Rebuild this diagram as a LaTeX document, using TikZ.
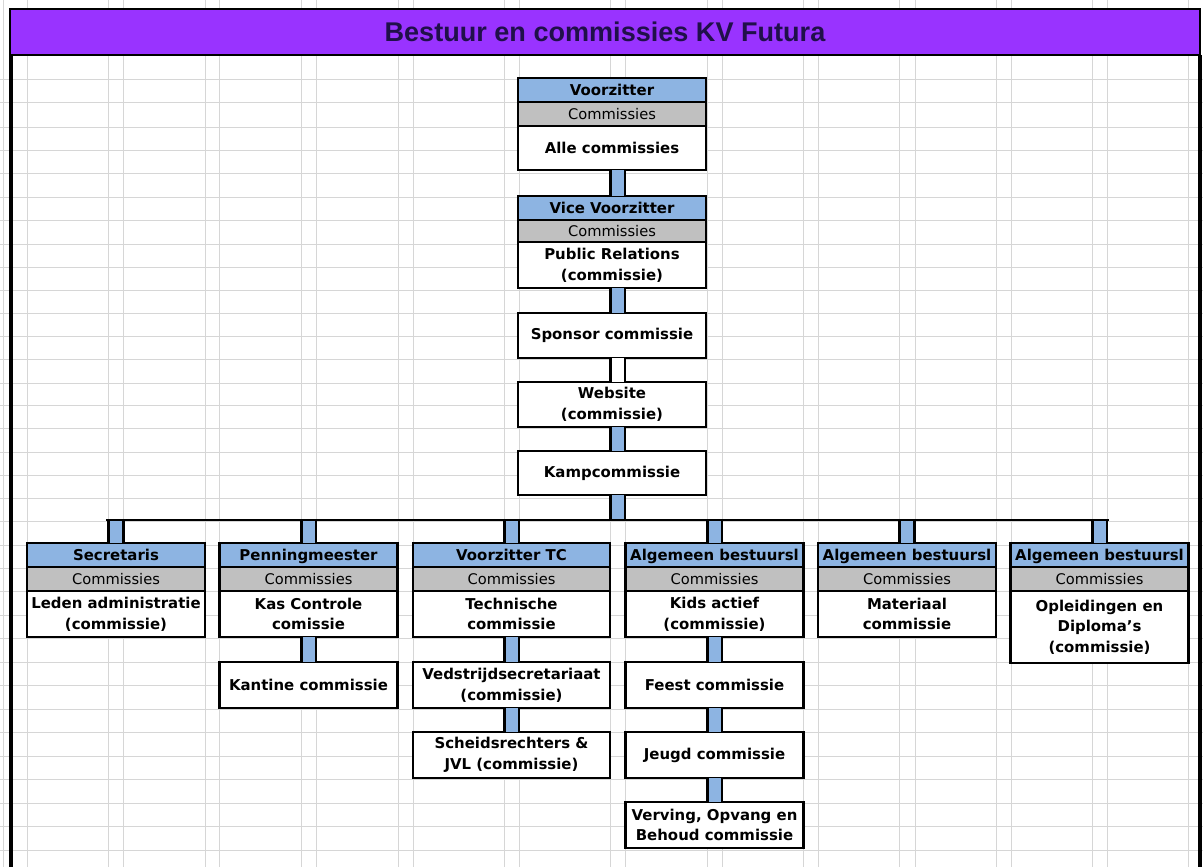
\documentclass[tikz,border=0pt]{standalone}
\usepackage{fontspec}
\setmainfont{DejaVu Sans}
\newfontfamily\titlefont{Liberation Sans}
\definecolor{hdrblue}{HTML}{8DB4E2}
\definecolor{subgray}{HTML}{C0C0C0}
\definecolor{gridgray}{HTML}{D6D6D6}
\definecolor{titlepurple}{HTML}{9933FF}
\definecolor{titleink}{HTML}{20104A}
\begin{document}
\begin{tikzpicture}[x=0.75pt,y=-0.75pt,
  gridline/.style={draw=gridgray,line width=0.75pt},
  boxline/.style={draw=black,line width=2.1pt,outer sep=0pt,inner sep=0pt},
  hdr/.style={boxline,fill=hdrblue,anchor=north,minimum height=18pt,text height=9.4pt,text depth=1.1pt,font=\bfseries\fontsize{11.2}{13}\selectfont},
  sub/.style={boxline,fill=subgray,anchor=north,minimum height=18pt,text height=9.4pt,text depth=1.1pt,font=\fontsize{11}{13}\selectfont},
  body/.style={boxline,fill=white,anchor=north,minimum height=34.5pt,align=center,font=\bfseries\fontsize{11.2}{15.5}\selectfont},
  wtop/.style={minimum width=141pt},
  wcol/.style={minimum width=133.5pt},
  wwide/.style={minimum width=147.75pt},
  conn/.style={draw=black,line width=1.9pt,double=hdrblue,double distance=9pt},
  connw/.style={draw=black,line width=1.9pt,double=white,double distance=9pt},
  busline/.style={draw=black,line width=2pt,line cap=rect},
  frame/.style={draw=black,line width=3pt}
]
\useasboundingbox (0,0) rectangle (1203,867);
\fill[white] (0,0) rectangle (1203,867);
% spreadsheet grid
\foreach \gx in {3,27,108,123,205,219,301,316,398,413,504,519,610,625,707,722,803,818,899,915,996,1011,1092,1107,1188}
  \draw[gridline] (\gx,0) -- (\gx,867);
\foreach \gy in {80,103,127,150,173,197,220,244,267,290,313,336,359,383,405,428,452,475,498,521,545,568,591,615,638,662,685,709,732,756,779,803,826,850}
  \draw[gridline] (0,\gy) -- (1203,\gy);

% title bar and frame
\node[draw=black,line width=2.2pt,fill=titlepurple,anchor=north west,outer sep=0pt,inner sep=0pt,
  minimum width=892.5pt,minimum height=34.5pt,text=titleink,font=\titlefont\bfseries\fontsize{20.3}{24}\selectfont]
  (title) at (10,9) {Bestuur en commissies KV Futura};
\draw[frame] (title.south west) ++(1,0) coordinate (fl) -- (fl |- 0,867);
\draw[frame,line width=2.4pt] (title.south east) -- (title.south east |- 0,867);

\coordinate (spine) at (617.5,0);
\coordinate (busL) at (107,520);
\coordinate (busR) at (1108,520);

% top chain
\node[hdr,wtop] (vz-h) at (612,78) {Voorzitter};
\node[sub,wtop] (vz-s) at (vz-h.south) {Commissies};
\node[body,wtop,minimum height=33pt] (vz-b) at (vz-s.south) {Alle commissies};

\node[hdr,wtop] (vv-h) at (612,196) {Vice Voorzitter};
\node[sub,wtop,minimum height=16.5pt] (vv-s) at (vv-h.south) {Commissies};
\node[body,wtop] (vv-b) at (vv-s.south) {Public Relations\\(commissie)};

\node[body,wtop,minimum height=33.75pt] (spons) at (612,313) {Sponsor commissie};
\node[body,wtop,minimum height=33.75pt] (web) at (612,382) {Website\\(commissie)};
\node[body,wtop,minimum height=33pt] (kamp) at (612,451) {Kampcommissie};

\draw[conn] (vz-b.south -| spine) -- (vv-h.north -| spine);
\draw[conn] (vv-b.south -| spine) -- (spons.north -| spine);
\draw[connw] (spons.south -| spine) -- (web.north -| spine);
\draw[conn] (web.south -| spine) -- (kamp.north -| spine);
\draw[conn] (kamp.south -| spine) -- (spine |- busL);

% bottom row of boxes
\node[hdr,wcol] (c1-h) at (116,543) {Secretaris};
\node[sub,wcol] (c1-s) at (c1-h.south) {Commissies};
\node[body,wcol] (c1-b) at (c1-s.south) {Leden administratie\\(commissie)};

\node[hdr,wcol] (c2-h) at (308.5,543) {Penningmeester};
\node[sub,wcol] (c2-s) at (c2-h.south) {Commissies};
\node[body,wcol] (c2-b) at (c2-s.south) {Kas Controle\\comissie};
\node[body,wcol] (c2-1) at (308.5,662) {Kantine commissie};

\node[hdr,wwide] (c3-h) at (511.5,543) {Voorzitter TC};
\node[sub,wwide] (c3-s) at (c3-h.south) {Commissies};
\node[body,wwide] (c3-b) at (c3-s.south) {Technische\\commissie};
\node[body,wwide] (c3-1) at (511.5,662) {Vedstrijdsecretariaat\\(commissie)};
\node[body,wwide] (c3-2) at (511.5,732) {Scheidsrechters \&\\JVL (commissie)};

\node[hdr,wcol] (c4-h) at (714.5,543) {Algemeen bestuursl};
\node[sub,wcol] (c4-s) at (c4-h.south) {Commissies};
\node[body,wcol] (c4-b) at (c4-s.south) {Kids actief\\(commissie)};
\node[body,wcol] (c4-1) at (714.5,662) {Feest commissie};
\node[body,wcol] (c4-2) at (714.5,732) {Jeugd commissie};
\node[body,wcol] (c4-3) at (714.5,802) {Verving, Opvang en\\Behoud commissie};

\node[hdr,wcol] (c5-h) at (907,543) {Algemeen bestuursl};
\node[sub,wcol] (c5-s) at (c5-h.south) {Commissies};
\node[body,wcol] (c5-b) at (c5-s.south) {Materiaal\\commissie};

\node[hdr,wcol] (c6-h) at (1099.5,543) {Algemeen bestuursl};
\node[sub,wcol] (c6-s) at (c6-h.south) {Commissies};
\node[body,wcol,minimum height=54pt] (c6-b) at (c6-s.south) {Opleidingen en\\Diploma's\\(commissie)};

% connectors from the bus
\foreach \c in {c1,c2,c3,c4,c5,c6}
  \draw[conn] (\c-h.north |- busL) -- (\c-h.north);
\draw[busline] (busL) -- (busR);

% connectors inside columns
\draw[conn] (c2-b.south) -- (c2-1.north);
\draw[conn] (c3-b.south) -- (c3-1.north);
\draw[conn] (c3-1.south) -- (c3-2.north);
\draw[conn] (c4-b.south) -- (c4-1.north);
\draw[conn] (c4-1.south) -- (c4-2.north);
\draw[conn] (c4-2.south) -- (c4-3.north);
\end{tikzpicture}
\end{document}
